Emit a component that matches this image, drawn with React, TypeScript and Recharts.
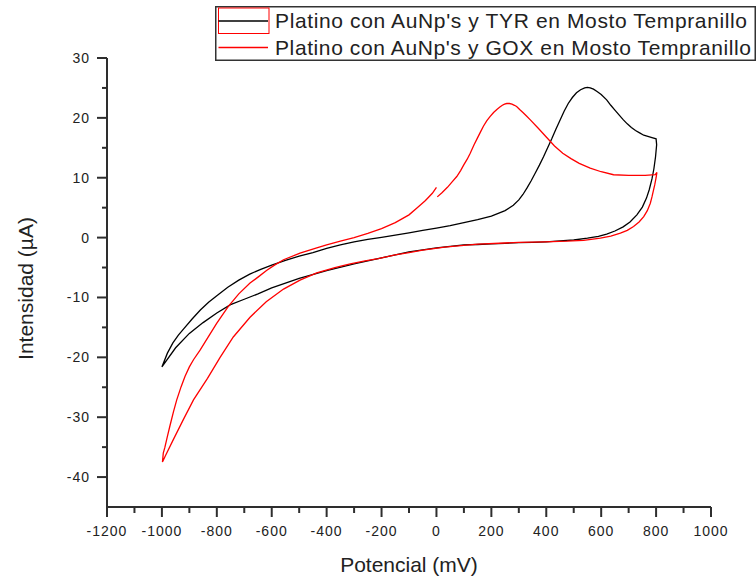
import { LineChart, Line, XAxis, YAxis, Legend } from "recharts";

// cyclic voltammograms, potential in mV, current in µA
const tyrPotential = [
  -1000, -980, -960, -940, -920, -890, -860, -830, -800, -760, -720, -680, -640, -600, -550, -500,
  -450, -400, -350, -300, -250, -200, -150, -100, -50, 0, 50, 100, 150, 200, 250, 280, 300, 315, 330,
  345, 360, 375, 390, 405, 420, 435, 450, 465, 480, 495, 510, 525, 540, 550, 560, 572, 585, 600, 620,
  635, 650, 665, 680, 695, 710, 725, 740, 755, 770, 785, 800,
  802, 798, 792, 785, 775, 765, 750, 730, 705, 680, 650, 620, 590, 550, 500, 450, 400, 350, 300,
  250, 200, 150, 100, 50, 0, -50, -100, -150, -200, -300, -400, -500, -600, -650, -700, -750,
  -800, -850, -900, -950, -1000,
];
const tyrCurrent = [
  -21.6, -19.3, -17.6, -16.3, -15.2, -13.6, -12.1, -10.8, -9.7, -8.3, -7.1, -6.1, -5.3, -4.6, -3.8, -3.1,
  -2.5, -1.8, -1.2, -0.7, -0.3, 0.05, 0.4, 0.8, 1.2, 1.6, 2.0, 2.5, 3.0, 3.6, 4.5, 5.4, 6.3, 7.2, 8.3,
  9.5, 10.8, 12.1, 13.5, 15.0, 16.5, 18.1, 19.6, 21.1, 22.4, 23.4, 24.2, 24.7, 25.0, 25.1, 25.0, 24.8, 24.4, 23.9, 23.0,
  22.1, 21.3, 20.5, 19.7, 19.0, 18.4, 17.9, 17.5, 17.1, 16.9, 16.7, 16.5,
  15.5, 13.5, 11.5, 9.8, 8.0, 6.6, 5.1, 3.8, 2.6, 1.8, 1.1, 0.6, 0.2, -0.1, -0.4, -0.55, -0.7, -0.8, -0.85,
  -0.95, -1.05, -1.15, -1.2, -1.45, -1.7, -2.05, -2.4, -2.9, -3.4, -4.4, -5.5, -6.8, -8.4, -9.4, -10.3, -11.2,
  -12.6, -14.2, -16.0, -18.4, -21.6,
];

const goxPotential = [
  3, 20, 40, 57, 74, 88, 100, 112, 123, 137, 150, 161, 171, 183, 195, 208, 220, 231, 240, 248, 256,
  266, 275, 284, 292, 303, 315, 328, 341, 370, 400, 430, 460, 490,
  520, 560, 600, 645, 700, 760, 797, 803,
  800, 795, 791, 785, 779, 768, 755, 738, 718, 695, 670, 635, 597, 536, 475, 394, 300, 250, 152, 100,
  30, -50, -100, -150, -212, -260, -314, -370, -436, -497, -557, -620, -679, -740, -788, -834, -885,
  -922, -958, -989, -998,
  -995, -989, -980, -970, -958, -946, -930, -916, -900, -885, -861, -830, -800, -758, -720, -679, -650,
  -619, -590, -557, -497, -436, -400, -350, -300, -250, -200, -150, -100, -70, -40, -15, 0,
];
const goxCurrent = [
  6.8, 7.5, 8.4, 9.3, 10.2, 11.2, 12.2, 13.1, 14.1, 15.5, 16.7, 17.7, 18.6, 19.5, 20.2, 20.9, 21.4, 21.8, 22.1, 22.3, 22.4,
  22.4, 22.3, 22.1, 21.9, 21.4, 20.9, 20.3, 19.7, 18.3, 16.8, 15.3, 14.1, 13.2,
  12.4, 11.6, 11.0, 10.5, 10.4, 10.4, 10.5, 10.9,
  10.0, 8.8, 8.0, 6.8, 5.75, 4.5, 3.5, 2.6, 1.84, 1.2, 0.74, 0.25, -0.1, -0.45, -0.6, -0.7, -0.8, -0.9, -1.1, -1.3,
  -1.6, -2.1, -2.5, -2.9, -3.5, -3.9, -4.4, -5.0, -5.9, -7.1, -8.6, -10.7, -13.3, -16.6, -20.0, -23.5, -27.1,
  -30.4, -33.7, -36.6, -37.5,
  -36.0, -35.0, -33.2, -31.3, -29.1, -27.1, -24.9, -23.2, -21.6, -20.4, -18.8, -16.5, -14.3, -11.5, -9.4, -7.6, -6.6,
  -5.5, -4.6, -3.7, -2.6, -1.7, -1.2, -0.6, 0.0, 0.7, 1.5, 2.5, 3.8, 5.0, 6.2, 7.4, 8.4,
];

const seriesNames = [
  "Platino con AuNp's y TYR en Mosto Tempranillo",
  "Platino con AuNp's y GOX en Mosto Tempranillo",
];
const seriesColors = ["#000000", "#ff0000"];

const xTicks = [
  -1200, -1100, -1000, -900, -800, -700, -600, -500, -400, -300, -200, -100, 0, 100, 200, 300, 400,
  500, 600, 700, 800, 900, 1000,
];
const yTicks = [-40, -35, -30, -25, -20, -15, -10, -5, 0, 5, 10, 15, 20, 25, 30];

const tyrData = tyrPotential.map((x, i) => ({ x, y: tyrCurrent[i] }));
const goxData = goxPotential.map((x, i) => ({ x, y: goxCurrent[i] }));

const axisColor = "#2e2e2e";
const textColor = "#222";
const font = "'Liberation Sans', Arial, sans-serif";

const XTick = (props: any) => {
  const { x, y, payload } = props;
  const major = payload.value % 200 === 0;
  const axisY = y - 19;
  return (
    <g>
      <line x1={x} x2={x} y1={axisY} y2={axisY + (major ? 10 : 6)} stroke={axisColor} strokeWidth={2} />
      {major && (
        <text x={x} y={y} dy="0.71em" textAnchor="middle" fontSize={14} letterSpacing={1} fill={textColor} fontFamily={font}>
          {payload.value}
        </text>
      )}
    </g>
  );
};

const YTick = (props: any) => {
  const { x, y, payload } = props;
  const major = payload.value % 10 === 0;
  const axisX = x + 17;
  return (
    <g>
      <line x1={axisX - (major ? 10 : 5)} x2={axisX} y1={y} y2={y} stroke={axisColor} strokeWidth={2} />
      {major && (
        <text x={x} y={y} dy="0.355em" textAnchor="end" fontSize={14} letterSpacing={1} fill={textColor} fontFamily={font}>
          {payload.value}
        </text>
      )}
    </g>
  );
};

const renderLegend = () => (
  <svg width={541} height={55} style={{ display: "block" }}>
    <rect x={0.75} y={0.75} width={539.5} height={53.5} fill="#fff" stroke="#333" strokeWidth={1.5} />
    <rect x={3.5} y={2} width={50.5} height={25.5} fill="none" stroke="#ff0000" strokeWidth={1} />
    {seriesNames.map((name, i) => (
      <g key={name}>
        <line x1={3.5} x2={53} y1={15 + i * 26.5} y2={15 + i * 26.5} stroke={seriesColors[i]} strokeWidth={1.5} />
        <text
          x={60}
          y={22 + i * 26.5}
          fontSize={21}
          fontFamily={font}
          fill={textColor}
          textLength={i === 0 ? 472 : 476}
          lengthAdjust="spacing"
        >
          {name}
        </text>
      </g>
    ))}
  </svg>
);

export default function App() {
  return (
    <div style={{ position: "absolute", left: 0, top: 0, background: "#fff" }}>
      <LineChart width={756} height={578} margin={{ top: 58, right: 45, left: 0, bottom: 0 }}>
        <XAxis
          type="number"
          dataKey="x"
          domain={[-1200, 1000]}
          ticks={xTicks}
          interval={0}
          height={71}
          tickSize={10}
          tickMargin={9}
          tickLine={false}
          tick={<XTick />}
          axisLine={{ stroke: axisColor, strokeWidth: 2 }}
          label={{
            value: "Potencial (mV)",
            position: "insideBottom",
            offset: 6,
            style: { fontSize: 21, fontFamily: font, fill: textColor },
          }}
        />
        <YAxis
          type="number"
          dataKey="y"
          domain={[-45, 30]}
          ticks={yTicks}
          interval={0}
          width={107}
          tickSize={10}
          tickMargin={7}
          tickLine={false}
          tick={<YTick />}
          axisLine={{ stroke: axisColor, strokeWidth: 2 }}
          label={{
            value: "Intensidad (µA)",
            angle: -90,
            position: "insideLeft",
            offset: 26,
            dy: 6,
            style: { fontSize: 21, fontFamily: font, fill: textColor, textAnchor: "middle" },
          }}
        />
        <Legend
          layout="horizontal"
          verticalAlign="middle"
          align="center"
          content={renderLegend}
          wrapperStyle={{ left: 215, top: 6, width: 541, height: 55 }}
        />
        <Line
          data={tyrData}
          dataKey="y"
          name={seriesNames[0]}
          type="linear"
          stroke={seriesColors[0]}
          strokeWidth={1.3}
          dot={false}
          isAnimationActive={false}
        />
        <Line
          data={goxData}
          dataKey="y"
          name={seriesNames[1]}
          type="linear"
          stroke={seriesColors[1]}
          strokeWidth={1.3}
          dot={false}
          isAnimationActive={false}
        />
      </LineChart>
    </div>
  );
}
